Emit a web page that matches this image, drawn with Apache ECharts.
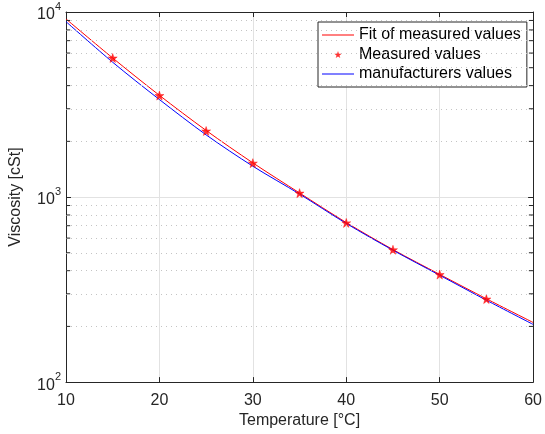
<!DOCTYPE html>
<html><head><meta charset="utf-8">
<script src="https://cdn.jsdelivr.net/npm/echarts@6.0.0/dist/echarts.min.js"></script>
<style>html,body{margin:0;padding:0;background:#fff}#c{width:545px;height:434px}</style>
</head><body><div id="c"></div>
<script>
// ---- data ----
const temps = [10, 15, 20, 25, 30, 35, 40, 45, 50, 55, 60];
const fitValues = [9170, 5640, 3545, 2290, 1530, 1052, 728, 520, 382, 282, 210];
const measuredTemps = [15, 20, 25, 30, 35, 40, 45, 50, 55];
const measuredValues = [5640, 3535, 2275, 1525, 1050, 725, 519, 381, 281];
const manufacturerValues = [8870, 5350, 3365, 2168, 1468, 1038, 720, 516, 378, 277, 205];
const xTickLabels = [10, 20, 30, 40, 50, 60];
const yMajorTicks = [100, 1000, 10000];
const yMinorTicks = [200, 300, 400, 500, 600, 700, 800, 900, 2000, 3000, 4000, 5000, 6000, 7000, 8000, 9000];

const axisColor = '#262626';
const font = 'Liberation Sans, Arial, Helvetica, sans-serif';
const starPath = 'path://M50,0 L61.8,35.1 L98.1,34.5 L69.1,56.7 L79.4,90.5 L50,70 L20.6,90.5 L30.9,56.7 L1.9,34.5 L38.2,35.1 Z';
const lineIcon = 'path://M0,0 L320,0 L320,10 L0,10 Z';

const xMin = xTickLabels[0], xMax = xTickLabels[xTickLabels.length - 1];
const minorTickLen = 0.45;

const minorGrid = yMinorTicks.map(v => ({ yAxis: v }));
// minor tick segments on left and right frame, separated by gaps
const minorTickData = [];
yMinorTicks.forEach(v => {
  minorTickData.push([xMin, v], [xMin + minorTickLen, v], [xMin, '-']);
  minorTickData.push([xMax - minorTickLen, v], [xMax, v], [xMax, '-']);
});

const chart = echarts.init(document.getElementById('c'), null, { renderer: 'canvas' });
const baseX = {
  type: 'value', min: xMin, max: xMax, interval: 10,
  axisLine: { show: true, lineStyle: { color: axisColor, width: 1 } },
  axisTick: { show: true, inside: true, length: 5, lineStyle: { color: axisColor } }
};
const baseY = {
  type: 'log', logBase: 10, min: yMajorTicks[0], max: yMajorTicks[yMajorTicks.length - 1],
  axisLine: { show: true, lineStyle: { color: axisColor, width: 1 } },
  axisTick: { show: true, inside: true, length: 5, lineStyle: { color: axisColor } }
};

chart.setOption({
  animation: false,
  backgroundColor: '#fff',
  textStyle: { fontFamily: font },
  grid: { left: 65, right: 9, top: 12, bottom: 50, containLabel: false },
  legend: {
    data: [
      { name: 'Fit of measured values', icon: lineIcon, itemStyle: { color: '#ff0000', borderWidth: 0 } },
      { name: 'Measured values', icon: starPath, itemStyle: { color: '#ff0000', borderWidth: 0 } },
      { name: 'manufacturers values', icon: lineIcon, itemStyle: { color: '#0000ff', borderWidth: 0 } }
    ],
    orient: 'vertical', left: 318, top: 22,
    padding: [5, 6, 5, 4],
    itemWidth: 32, itemHeight: 7, itemGap: 3.5,
    backgroundColor: '#fff', borderColor: axisColor, borderWidth: 1, borderRadius: 0,
    textStyle: { fontSize: 16, color: '#000', fontFamily: font }
  },
  xAxis: [
    Object.assign({}, baseX, {
      position: 'bottom',
      axisLabel: { fontSize: 16, color: axisColor, margin: 10, fontFamily: font },
      splitLine: { show: true, lineStyle: { color: '#e2e2e2', width: 1 } },
      name: 'Temperature [°C]', nameLocation: 'middle', nameGap: 30,
      nameTextStyle: { fontSize: 16, color: axisColor, fontFamily: font }
    }),
    Object.assign({}, baseX, {
      position: 'top', axisLabel: { show: false }, splitLine: { show: false }
    })
  ],
  yAxis: [
    Object.assign({}, baseY, {
      position: 'left',
      axisLabel: {
        margin: 5, color: axisColor,
        formatter: v => '{b|10}{s|' + Math.round(Math.log10(v)) + '}',
        rich: {
          b: { fontSize: 16, color: axisColor, fontFamily: font, lineHeight: 22, verticalAlign: 'bottom' },
          s: { fontSize: 11, color: axisColor, fontFamily: font, lineHeight: 22, verticalAlign: 'top' }
        }
      },
      splitLine: { show: true, lineStyle: { color: '#e2e2e2', width: 1 } },
      name: 'Viscosity [cSt]', nameLocation: 'middle', nameGap: 42,
      nameTextStyle: { fontSize: 16, color: axisColor, fontFamily: font }
    }),
    Object.assign({}, baseY, {
      position: 'right', axisLabel: { show: false }, splitLine: { show: false }
    })
  ],
  series: [
    {
      name: 'minor-grid', type: 'line', data: [[xMin, yMajorTicks[0]]], symbol: 'none',
      lineStyle: { opacity: 0 }, silent: true, z: 1,
      markLine: {
        silent: true, symbol: ['none', 'none'], label: { show: false },
        lineStyle: { color: '#c4c4c4', width: 1, type: [1, 4] },
        data: minorGrid, animation: false
      }
    },
    {
      name: 'minor-ticks', type: 'line', data: minorTickData, symbol: 'none', showSymbol: false,
      connectNulls: false, silent: true, z: 5,
      lineStyle: { color: axisColor, width: 1 }
    },
    {
      name: 'Fit of measured values', type: 'line', smooth: 0.3, symbol: 'none',
      data: temps.map((t, i) => [t, fitValues[i]]),
      lineStyle: { color: '#ff0000', width: 1 }, itemStyle: { color: '#ff0000' }, z: 3
    },
    {
      name: 'Measured values', type: 'scatter', symbol: starPath, symbolSize: 9,
      data: measuredTemps.map((t, i) => [t, measuredValues[i]]),
      itemStyle: { color: '#ff0000', borderColor: '#ff0000', borderWidth: 0.5 }, z: 4
    },
    {
      name: 'manufacturers values', type: 'line', smooth: 0.3, symbol: 'none',
      data: temps.map((t, i) => [t, manufacturerValues[i]]),
      lineStyle: { color: '#0000ff', width: 1 }, itemStyle: { color: '#0000ff' }, z: 3
    }
  ]
});
</script></body></html>
